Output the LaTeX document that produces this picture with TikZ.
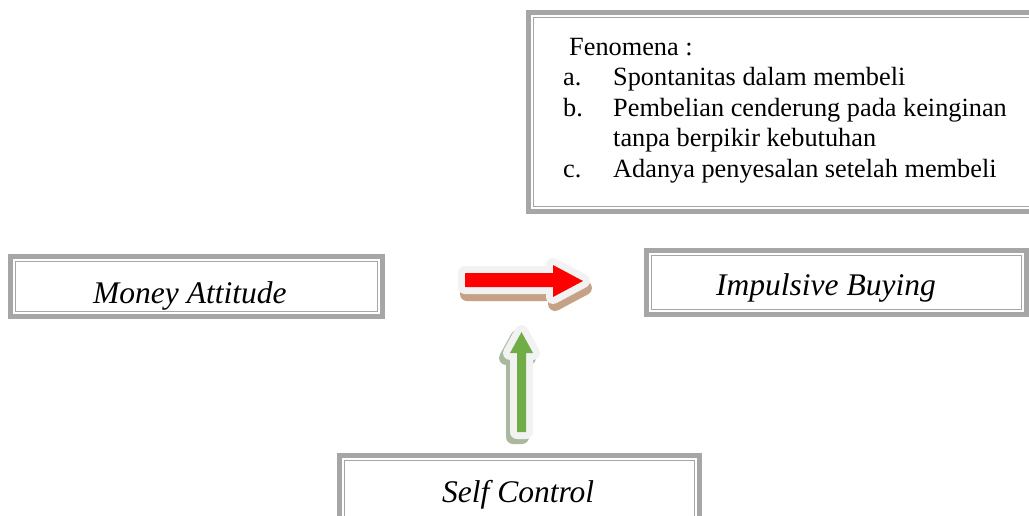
\documentclass[tikz,border=0pt]{standalone}
\usepackage{fontspec}
\setmainfont{Liberation Serif}
\usepackage{array}
\definecolor{frameGray}{HTML}{A6A6A6}
\definecolor{arrowEdge}{HTML}{F2F2F2}
\definecolor{arrowRed}{HTML}{FF0000}
\definecolor{arrowGreen}{HTML}{70AD47}
\definecolor{arrowTan}{HTML}{C5A286}
\definecolor{greenShade}{HTML}{A9B99F}
\tikzset{
  frame box/.style={draw=frameGray, line width=5pt, inner sep=0pt, outer sep=0pt},
  frame inner/.style={draw=frameGray, line width=1.5pt},
  frame text/.style={font=\fontsize{31.5}{36}\selectfont\itshape,
    text=black, inner sep=0pt, anchor=base west},
  list text/.style={font=\fontsize{26.3}{30.5}\selectfont,
    text=black, inner sep=0pt, anchor=base west},
  arrow shadow/.style n args={3}{preaction={fill=#1, draw=#1, line width=14pt,
    line join=round, transform canvas={xshift=#2, yshift=#3}}},
  block arrow/.style={preaction={fill=arrowEdge, draw=arrowEdge, line width=14pt,
    line join=round}, fill=#1}
}
\newcommand{\InnerFrame}[1]{%
  \draw[frame inner] ([shift={(5,5)}]#1.north west) rectangle ([shift={(-5,-5)}]#1.south east);
}

\begin{document}
\begin{tikzpicture}[x=1pt,y=-1pt]
  \useasboundingbox (0,0) rectangle (1029,515);
  \clip (0,0) rectangle (1029,515);
  \node[frame box, minimum width=515pt, minimum height=199pt] (fenomena) at (786,112) {};
  \InnerFrame{fenomena}
  \node[list text] (fenlist) at (563,55) {\begin{tabular}[t]{@{}p{50pt}@{}l@{}}
    \multicolumn{2}{@{\hspace{6pt}}l@{}}{Fenomena :}\\
    a. & Spontanitas dalam membeli\\
    b. & Pembelian cenderung pada keinginan\\
       & tanpa berpikir kebutuhan\\
    c. & Adanya penyesalan setelah membeli
  \end{tabular}};

  \node[frame box, minimum width=372pt, minimum height=60pt] (money) at (196.5,286.5) {};
  \InnerFrame{money}
  \node[frame text] (moneytext) at (93,303) {Money Attitude};

  \node[frame box, minimum width=380pt, minimum height=64pt] (impulsive) at (836.5,282.5) {};
  \InnerFrame{impulsive}
  \node[frame text] (impulsivetext) at (716,295) {Impulsive Buying};

  \node[frame box, minimum width=360pt, minimum height=70pt] (self) at (519.5,490.5) {};
  \InnerFrame{self}
  \node[frame text] (selftext) at (442,502) {Self Control};

  \path[arrow shadow={arrowTan}{2pt}{-7pt}, block arrow=arrowRed]
    (465,273) -- (553,273) -- (553,265) -- (583,281) -- (553,297)
    -- (553,287) -- (465,287) -- cycle;
  \path[arrow shadow={greenShade}{-4pt}{-5pt}, block arrow=arrowGreen]
    (517,432) -- (517,353) -- (510,353) -- (521.5,332) -- (533,353)
    -- (526,353) -- (526,432) -- cycle;
\end{tikzpicture}
\end{document}
